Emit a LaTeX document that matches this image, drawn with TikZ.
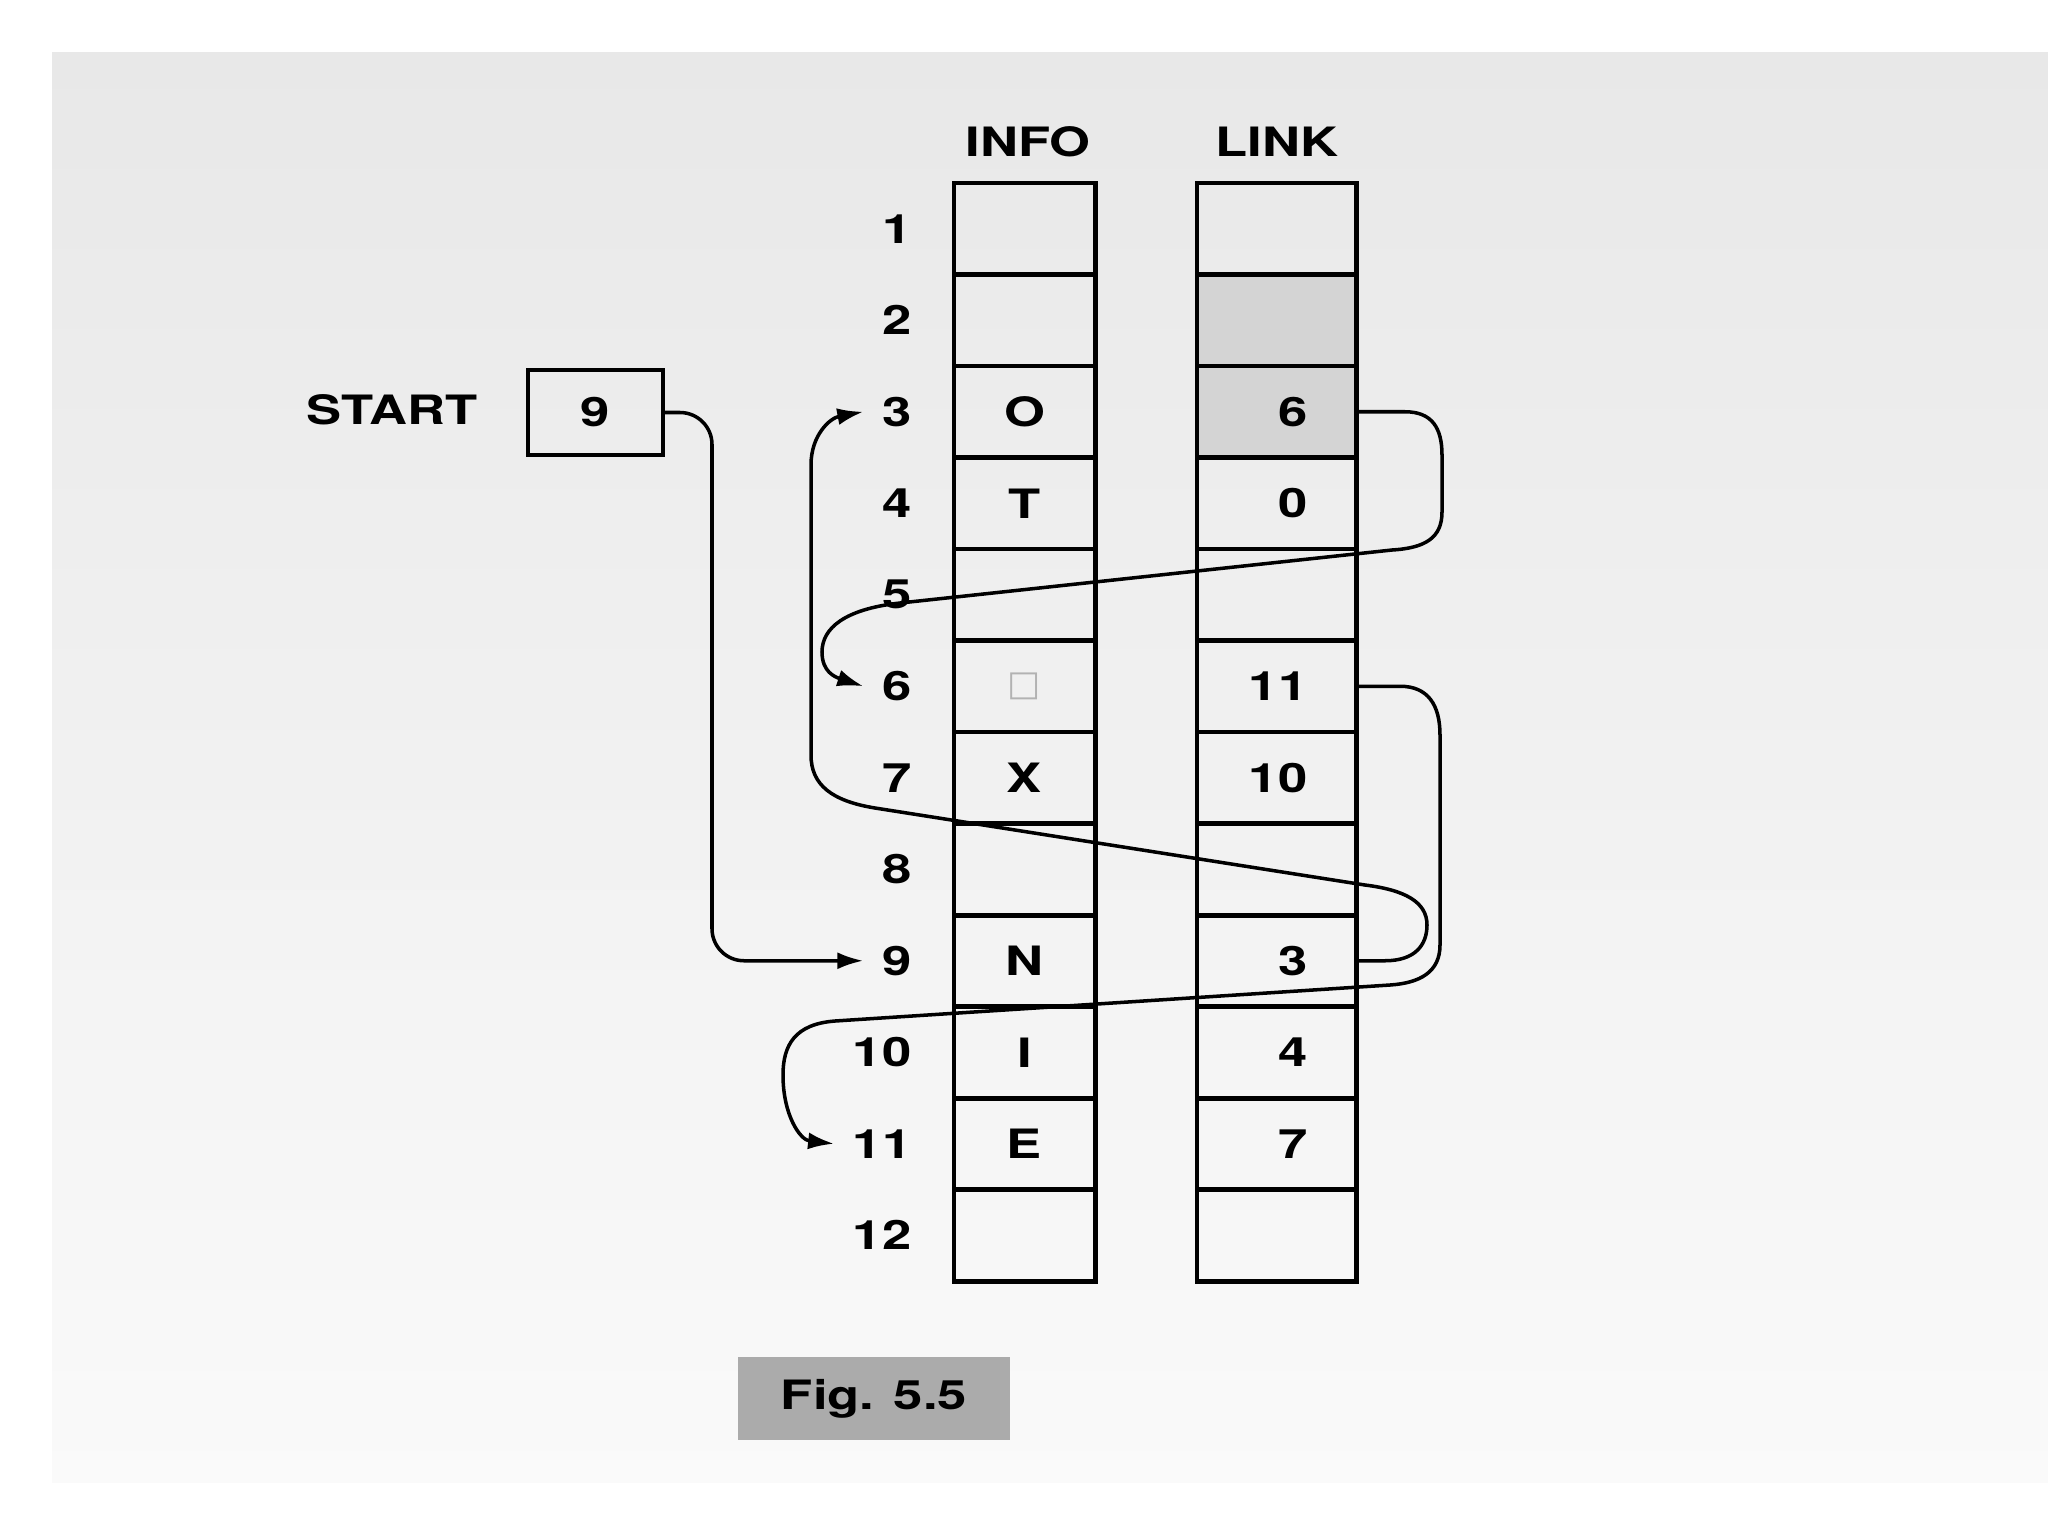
\documentclass[tikz,border=0pt]{standalone}
\usepackage{fontspec}
\newfontfamily\lblfont{TeX Gyre Heros}[FakeStretch=1.3]
\newfontfamily\symfont{DejaVu Sans}
\usetikzlibrary{arrows.meta}
\begin{document}
\begin{tikzpicture}[x=0.01cm,y=-0.01cm,
  lbl/.style={font=\fontsize{11.5}{13}\selectfont\lblfont\bfseries, inner sep=0pt},
  infocell/.style={draw, line width=1.4pt, minimum width=1.41cm, minimum height=0.915cm, inner sep=0pt},
  linkcell/.style={draw, line width=1.4pt, minimum width=1.59cm, minimum height=0.915cm, inner sep=0pt},
  numlbl/.style={lbl, anchor=east, inner xsep=0.18cm},
  arr/.style={line width=1pt, -{Latex[length=0.26cm,width=0.17cm]}},
]
\useasboundingbox (0,0) rectangle (2048,1536);
\fill[white] (0,0) rectangle (2048,1536);
\fill[top color=black!9, bottom color=black!2] (52,52) rectangle (2048,1482);

% headers
\node[lbl] (hinfo) at (1028,142) {INFO};
\node[lbl] (hlink) at (1277,142) {LINK};

% cells and row numbers
\foreach \i in {1,...,12} {
  \pgfmathsetmacro{\yy}{183+(\i-0.5)*91.5}
  \node[infocell] (info\i) at (1024.5,\yy) {};
  \node[linkcell] (link\i) at (1276.5,\yy) {};
  \node[numlbl] (num\i) at (930,\yy) {\i};
}
\fill[black!17] ([xshift=0.7pt,yshift=-0.7pt]link2.north west) rectangle ([xshift=-0.7pt,yshift=0.7pt]link3.south east);
\foreach \i in {2,3} { \node[linkcell] at (link\i) {}; }

% INFO contents
\node[lbl] (vi3) at (info3) {O};
\node[lbl] (vi4) at (info4) {T};
\node[inner sep=0pt, font=\fontsize{10}{12}\selectfont\symfont, text=black!30] (vi6) at (info6) {□};
\node[lbl] (vi7) at (info7) {X};
\node[lbl] (vi9) at (info9) {N};
\node[lbl] (vi10) at (info10) {I};
\node[lbl] (vi11) at (info11) {E};

% LINK contents
\node[lbl, anchor=east] (vl3) at (1308,411.75) {6};
\node[lbl, anchor=east] (vl4) at (1308,503.25) {0};
\node[lbl, anchor=east] (vl6) at (1308,686.25) {11};
\node[lbl, anchor=east] (vl7) at (1308,777.75) {10};
\node[lbl, anchor=east] (vl9) at (1308,960.75) {3};
\node[lbl, anchor=east] (vl10) at (1308,1052.25) {4};
\node[lbl, anchor=east] (vl11) at (1308,1143.75) {7};

% START
\node[lbl, anchor=east] (start) at (478,410) {START};
\node[draw, line width=1.1pt, minimum width=1.35cm, minimum height=0.85cm, lbl] (sbox) at (595.5,412.5) {9};

% caption
\node[fill=black!33, minimum width=2.72cm, minimum height=0.83cm, lbl] (fig) at (874,1398.5) {Fig. 5.5};

% connectors
\draw[arr, rounded corners=0.32cm] (sbox.east) -| (712,960.75) -- (num9.west);

\draw[arr] (link3.east) -- (1405,411.75) .. controls (1432,411.75) and (1442,428) .. (1442,455)
  -- (1442,512) .. controls (1442,538) and (1425,548) .. (1392,550)
  -- (900,603) .. controls (845,609) and (822,628) .. (822,652)
  .. controls (822,672) and (835,677) .. (num6.west);

\draw[arr] (link6.east) -- (1400,686.25) .. controls (1428,686.25) and (1440,705) .. (1440,735)
  -- (1440,945) .. controls (1440,972) and (1420,983) .. (1390,985)
  -- (835,1021) .. controls (795,1024) and (783,1045) .. (783,1075)
  .. controls (783,1115) and (800,1140) .. (num11.west);

\draw[arr] (link9.east) -- (1385,960.75) .. controls (1415,960.75) and (1427,945) .. (1427,925)
  .. controls (1427,902) and (1405,890) .. (1365,885)
  -- (875,808) .. controls (832,801) and (811,785) .. (811,755)
  -- (811,465) .. controls (811,435) and (830,418) .. (num3.west);
\end{tikzpicture}
\end{document}
